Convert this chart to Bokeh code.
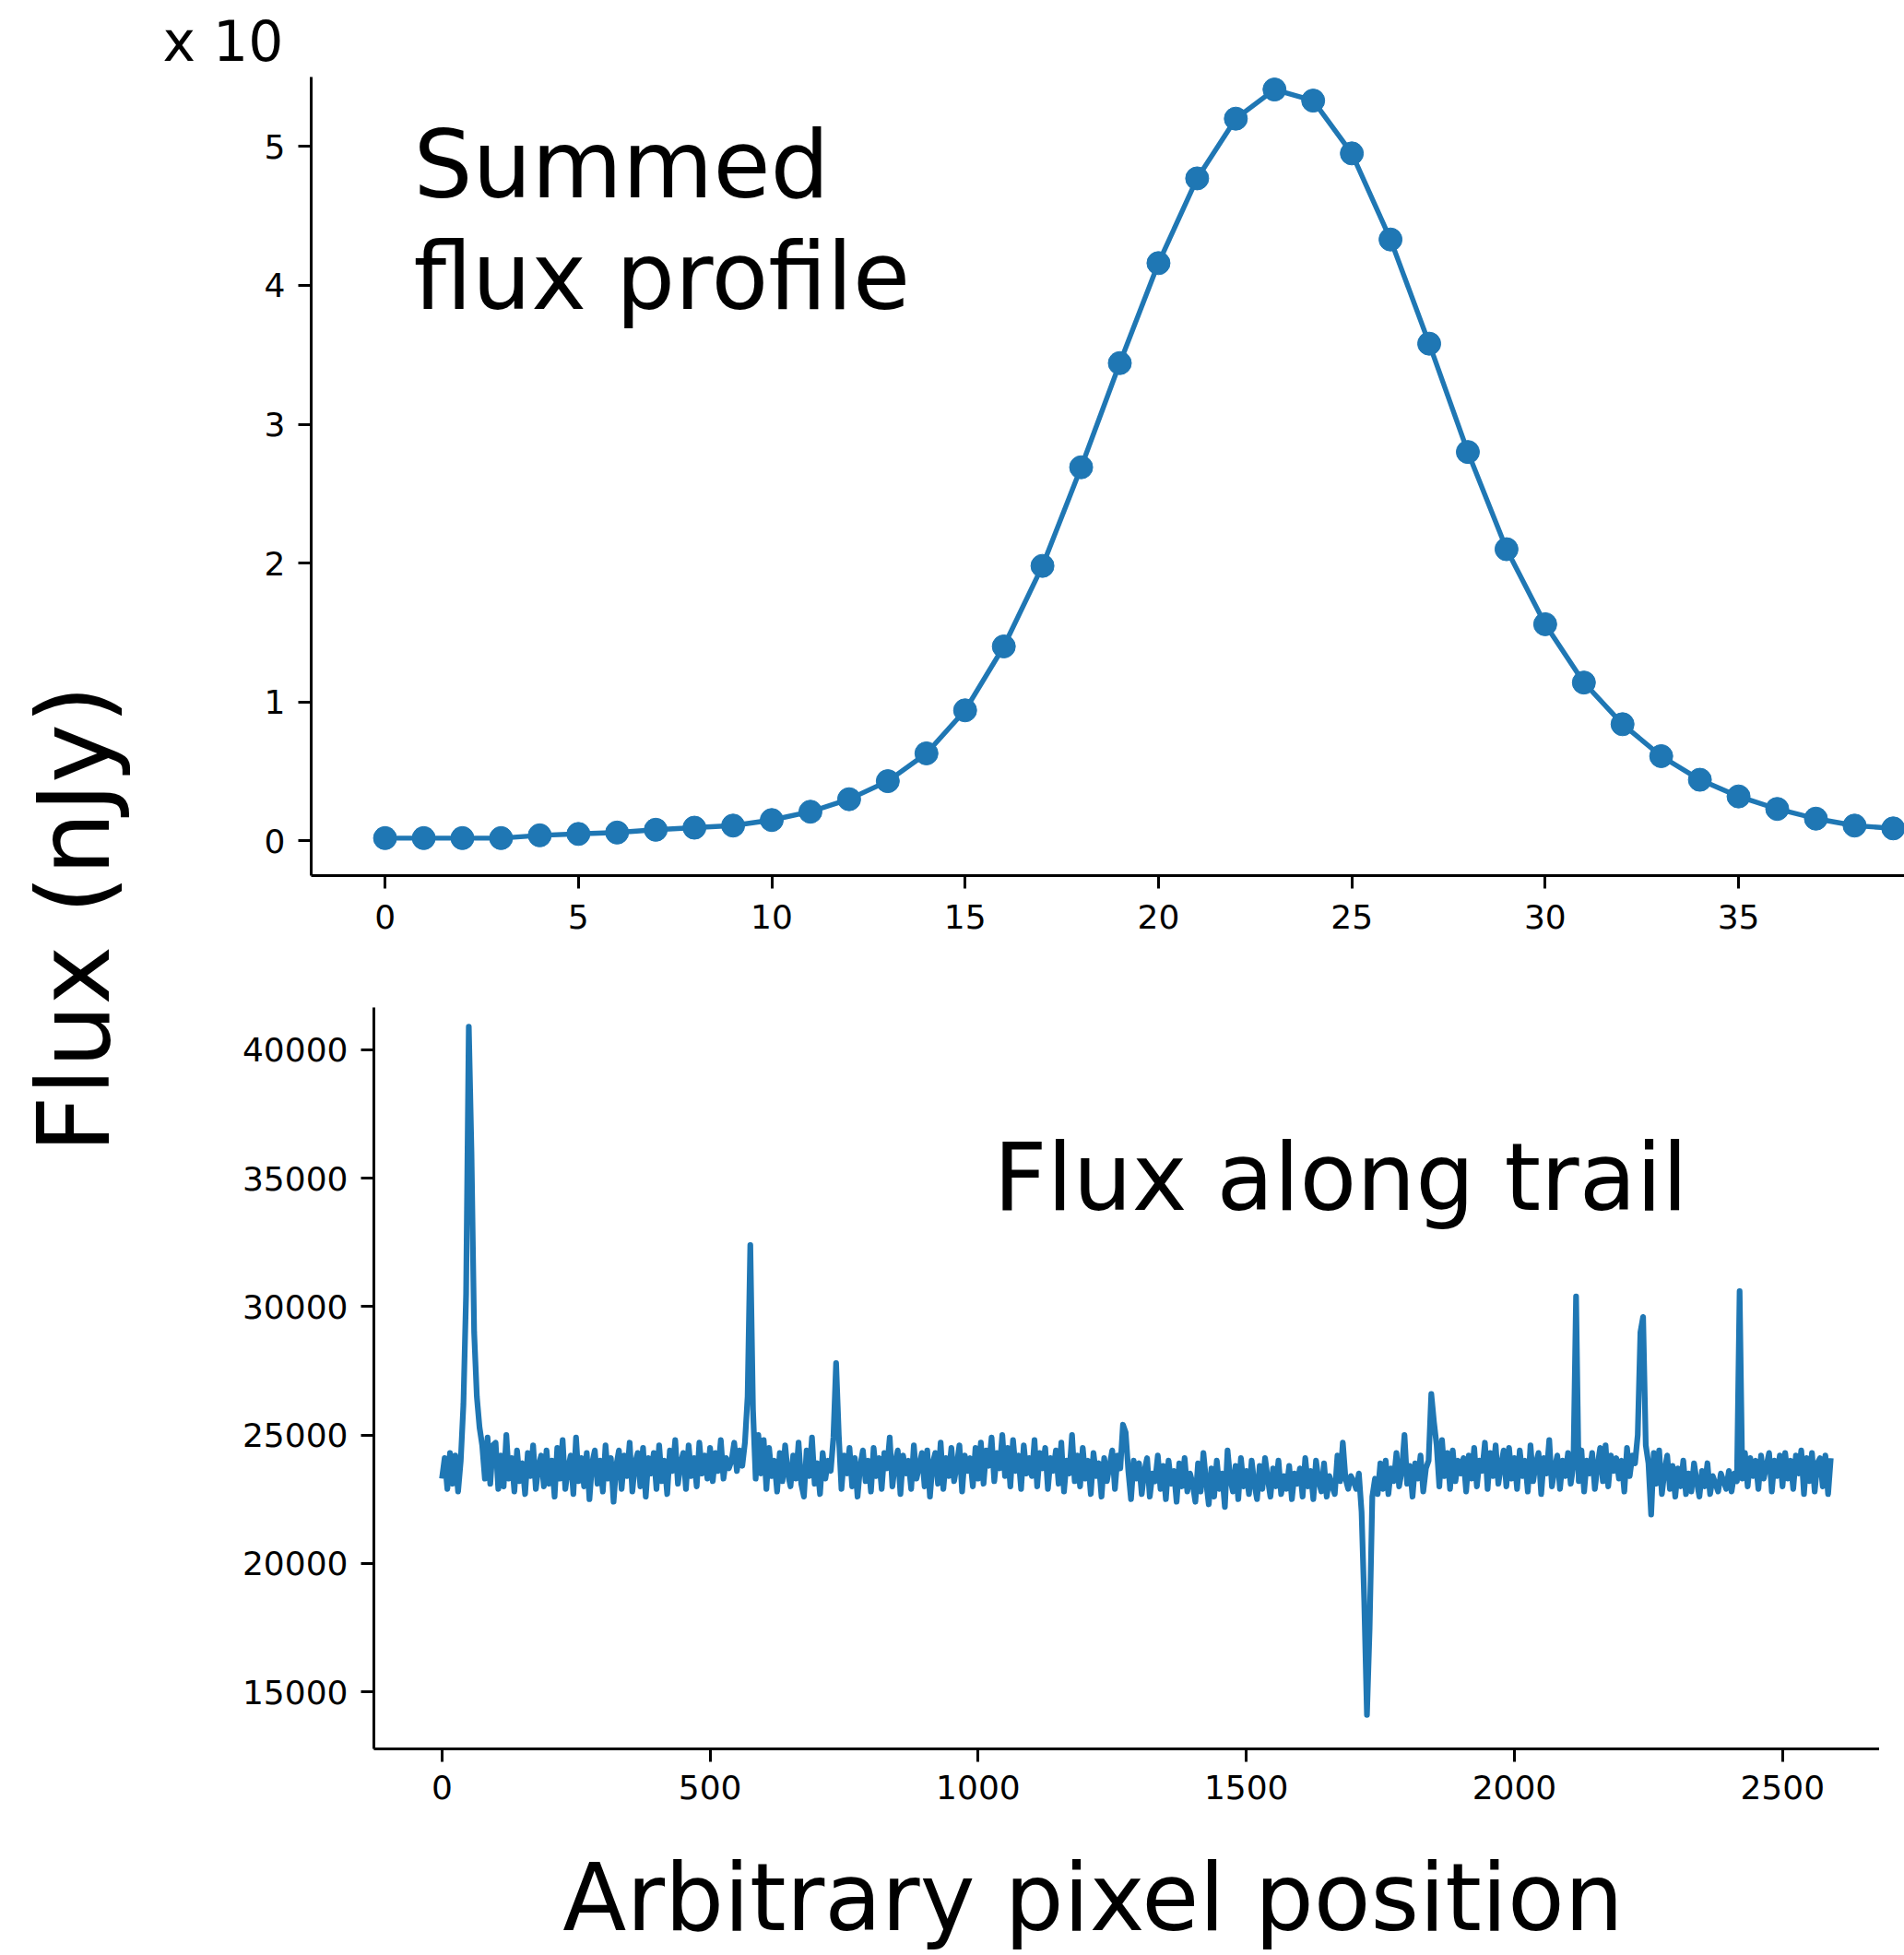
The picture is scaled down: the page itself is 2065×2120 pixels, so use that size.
import numpy as np
from bokeh.plotting import figure
from bokeh.layouts import row, column
from bokeh.models import Label, Range1d, FixedTicker, Spacer
from bokeh.embed import file_html
from bokeh.resources import INLINE

# ---------------- data ----------------
profile_x = list(range(40))
profile_y = [0.02, 0.02, 0.02, 0.02, 0.04, 0.05, 0.06, 0.08, 0.095, 0.11,
             0.15, 0.21, 0.30, 0.43, 0.63, 0.94, 1.40, 1.98, 2.69, 3.44,
             4.16, 4.77, 5.20, 5.41, 5.33, 4.95, 4.33, 3.58, 2.80, 2.10,
             1.56, 1.14, 0.84, 0.61, 0.44, 0.32, 0.23, 0.16, 0.11, 0.09]

trail_x = list(range(0, 2591, 5))
trail_y = [
    23300, 24100, 22900, 24300, 23100, 24200, 22800, 24000, 26200, 30500, 40900, 36000, 29000, 26500, 25300, 24600, 23300, 24900, 23100, 24600,
    24700, 22900, 24200, 23000, 25000, 23300, 24100, 22800, 24400, 23200, 23900, 22700, 24300, 23400, 24600, 22900, 23800, 24200, 23000, 24400,
    23100, 24000, 22600, 24500, 23300, 24800, 22900, 23700, 24200, 22700, 24900, 23200, 24100, 23000, 24300, 22500, 23900, 24400, 23100, 24000,
    22800, 24600, 23300, 24100, 22400, 23800, 24400, 22900, 24200, 23400, 24700, 22800, 23900, 24300, 23000, 24500, 22600, 24100, 23500, 24300,
    22900, 24600, 23200, 24000, 22700, 24400, 23600, 24800, 23100, 23900, 24300, 22900, 24600, 23400, 24100, 23000, 24700, 23500, 24200, 23300,
    24500, 23200, 24300, 23600, 24800, 23300, 24100, 23700, 24000, 24700, 23600, 24400, 23800, 24700, 26500, 32400, 26000, 23300, 25000, 23500,
    24800, 22900, 24500, 23400, 24000, 22800, 24300, 23200, 24600, 23500, 23000, 24200, 23300, 24700, 23100, 22600, 24400, 23400, 24900, 23100,
    23900, 22700, 24300, 23300, 24000, 23600, 24900, 27800, 25000, 22900, 24200, 23500, 24500, 23000, 24100, 22600, 23800, 24400, 23200, 24000,
    22800, 24500, 23400, 24100, 22900, 24300, 23700, 24900, 23000, 23900, 24400, 22700, 24200, 23500, 24000, 22900, 24600, 23300, 23800, 24300,
    23000, 24400, 22600, 23900, 24300, 23100, 24700, 22900, 24100, 23400, 24500, 23200, 23800, 24600, 22800, 24200, 23600, 24100, 23000, 24500,
    23300, 24700, 23100, 24400, 23800, 24900, 23200, 24300, 23700, 25000, 23400, 24500, 23000, 24800, 23600, 24200, 22900, 24600, 23500, 24100,
    23400, 24800, 23000, 24300, 23700, 24500, 22900, 24100, 23600, 24400, 23100, 24700, 22800, 24000, 23500, 25000, 23200, 24200, 23000, 24500,
    23300, 24000, 22700, 24300, 23400, 23900, 22600, 24100, 23200, 23800, 24400, 22900, 24200, 23700, 25400, 25100, 23600, 22500, 24000, 23300,
    23900, 22700, 23600, 24100, 22600, 23500, 23200, 24200, 22900, 23800, 22500, 24000, 23100, 23600, 22400, 23900, 23000, 24100, 22800, 23500,
    23100, 22400, 23900, 22800, 24300, 23200, 22300, 23700, 22600, 24000, 22900, 23500, 22200, 24400, 23300, 22800, 23800, 22500, 24100, 23000,
    23600, 22700, 24000, 23100, 22500, 23800, 22900, 24100, 23300, 22600, 23700, 23000, 24000, 22700, 23400, 22900, 23800, 22500, 23500, 23100,
    23700, 22600, 24100, 23000, 23600, 22500, 24000, 23200, 22800, 23900, 22600, 23400, 23000, 22700, 24200, 23200, 24700, 23300, 22900, 23400,
    23200, 22900, 23500, 22000, 18500, 14100, 17500, 22600, 23300, 22700, 23900, 22900, 24000, 22700, 23700, 23200, 24300, 23000, 23600, 25000,
    23100, 23800, 22600, 23900, 23300, 24200, 22800, 23700, 24000, 26600, 25500, 24600, 23000, 24800, 23400, 24300, 22900, 24400, 23200, 24000,
    23500, 24100, 22800, 24200, 23300, 24500, 23000, 24000, 23600, 24700, 22900, 24300, 23400, 24600, 23100, 23800, 24400, 23000, 24500, 23300,
    24100, 22900, 24400, 23400, 24000, 22800, 24600, 23200, 23900, 24300, 22700, 24100, 23500, 24800, 23000, 23700, 24200, 22900, 24000, 23400,
    24300, 23100, 23800, 30400, 23200, 24400, 22800, 24000, 23500, 24300, 22900, 23800, 24500, 23200, 24600, 23000, 24200, 23600, 24100, 23300,
    24000, 22800, 24500, 23400, 24200, 23900, 25000, 29000, 29600, 24600, 23900, 21900, 24300, 23100, 24400, 22700, 23600, 24200, 22900, 23800,
    22600, 23700, 23000, 24000, 22700, 23500, 22800, 23900, 23200, 22600, 23600, 23000, 23900, 22700, 23400, 23100, 22800, 23500, 23200, 22900,
    23600, 22800, 23500, 23200, 30600, 23300, 24300, 23000, 24100, 23400, 24000, 22900, 24200, 23300, 23800, 24300, 22800, 24000, 23400, 24200,
    23000, 24300, 23300, 24000, 22900, 24200, 23500, 24400, 22700, 24100, 23200, 24300, 22800, 23900, 24100, 23000, 24200, 22700, 24100,
]

top_xticks = [0, 5, 10, 15, 20, 25, 30, 35]
top_yticks = [0, 1, 2, 3, 4, 5]
bot_xticks = [0, 500, 1000, 1500, 2000, 2500]
bot_yticks = [15000, 20000, 25000, 30000, 35000, 40000]

BLUE = "#1f77b4"
FONT = "DejaVu Sans"


def style(p):
    p.outline_line_color = None
    p.xgrid.visible = False
    p.ygrid.visible = False
    p.background_fill_color = "white"
    p.border_fill_color = "white"
    for ax in (p.xaxis[0], p.yaxis[0]):
        ax.axis_line_width = 3
        ax.axis_line_color = "black"
        ax.major_tick_line_width = 3
        ax.major_tick_line_color = "black"
        ax.major_tick_out = 14
        ax.major_tick_in = 0
        ax.minor_tick_out = 0
        ax.minor_tick_in = 0
        ax.major_label_text_font = FONT
        ax.major_label_text_font_size = "36px"
        ax.major_label_text_color = "black"
        ax.major_label_standoff = 14


def blank(width, height, **kw):
    f = figure(width=width, height=height, x_axis_type=None, y_axis_type=None,
               toolbar_location=None, output_backend="svg", **kw)
    f.outline_line_color = None
    f.xgrid.visible = False
    f.ygrid.visible = False
    return f


# ---------------- left label strip ----------------
left = blank(170, 2120, x_range=Range1d(0, 170), y_range=Range1d(0, 2120), min_border=0)
left.add_layout(Label(x=80, y=1124, text="Flux (nJy)", angle=np.pi / 2,
                      text_align="center", text_baseline="alphabetic",
                      text_font=FONT, text_font_style="normal",
                      text_font_size="108px", text_color="black"))

# ---------------- top panel ----------------
top = figure(width=1895, height=1030, x_range=Range1d(-1.91, 39.29), y_range=Range1d(-0.25, 5.50),
             min_border_left=167, min_border_right=0, min_border_top=83, min_border_bottom=81,
             toolbar_location=None, output_backend="svg")
style(top)
top.xaxis.major_label_standoff = 17
top.xaxis.ticker = FixedTicker(ticks=top_xticks)
top.yaxis.ticker = FixedTicker(ticks=top_yticks)
top.line(profile_x, profile_y, line_color=BLUE, line_width=5.4)
top.scatter(profile_x, profile_y, size=25, fill_color=BLUE, line_color=BLUE)
top.add_layout(Label(x=111, y=771, x_units="screen", y_units="screen", text="Summed",
                     text_font=FONT, text_font_style="normal", text_font_size="101px",
                     text_color="black", text_baseline="alphabetic"))
top.add_layout(Label(x=111, y=650, x_units="screen", y_units="screen", text="flux profile",
                     text_font=FONT, text_font_style="normal", text_font_size="101px",
                     text_color="black", text_baseline="alphabetic"))
top.title.text = "x 10"
top.title.align = "left"
top.title.offset = -161
top.title.standoff = 7
top.title.text_font = FONT
top.title.text_font_style = "normal"
top.title.text_font_size = "60px"
top.title.text_color = "black"

# ---------------- bottom panel ----------------
bot = figure(width=1800, height=960, x_range=Range1d(-127, 2681), y_range=Range1d(12774, 41652),
             min_border_left=167, min_border_right=0, min_border_top=62, min_border_bottom=94,
             toolbar_location=None, output_backend="svg")
style(bot)
bot.xaxis.ticker = FixedTicker(ticks=bot_xticks)
bot.yaxis.ticker = FixedTicker(ticks=bot_yticks)
bot.line(trail_x, trail_y, line_color=BLUE, line_width=6.2, line_join="round")
bot.add_layout(Label(x=672, y=620, x_units="screen", y_units="screen", text="Flux along trail",
                     text_font=FONT, text_font_style="normal", text_font_size="101px",
                     text_color="black", text_baseline="alphabetic"))
bot_row = row(Spacer(width=68, height=960), bot, Spacer(width=27, height=960), spacing=0)

# ---------------- x label strip ----------------
xlab = blank(1895, 130, x_range=Range1d(0, 1728), y_range=Range1d(0, 130),
             min_border_left=167, min_border_right=0, min_border_top=0, min_border_bottom=0)
xlab.add_layout(Label(x=848, y=63, text="Arbitrary pixel position",
                      text_align="center", text_baseline="alphabetic",
                      text_font=FONT, text_font_style="normal",
                      text_font_size="101px", text_color="black"))

layout = row(left, column(top, bot_row, xlab, spacing=0), spacing=0)
open("out.html", "w").write(file_html(layout, INLINE))
